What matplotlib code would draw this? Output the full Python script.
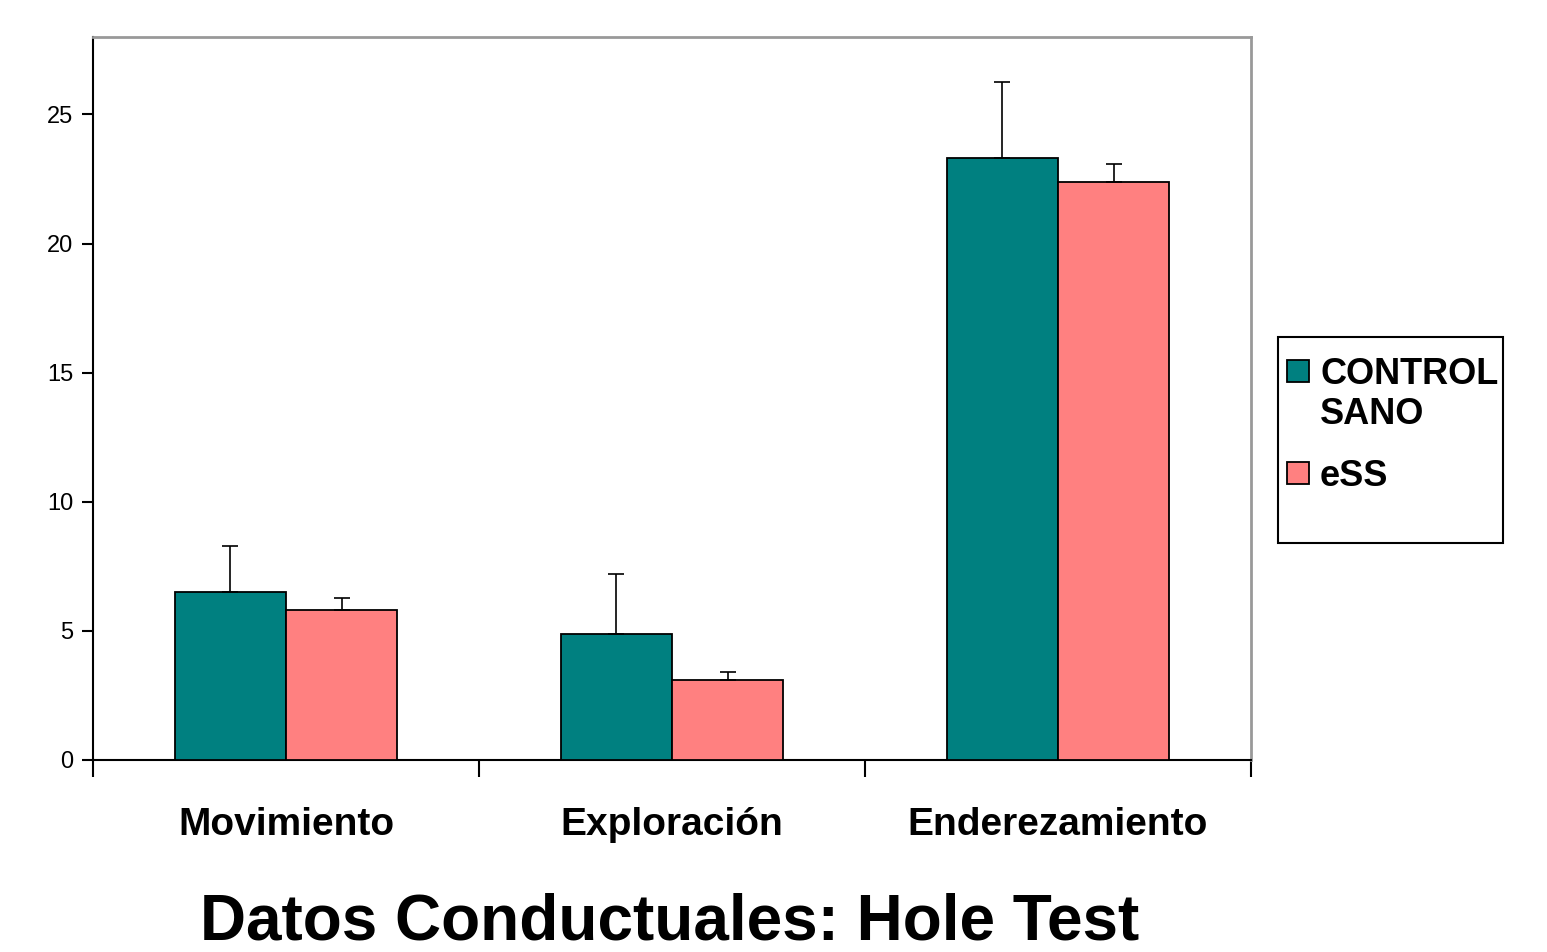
import matplotlib
matplotlib.use("Agg")
import matplotlib.pyplot as plt
from matplotlib.patches import Rectangle
import numpy as np

plt.rcParams['font.family'] = ['Liberation Sans', 'DejaVu Sans']

categories = ['Movimiento', 'Exploración', 'Enderezamiento']
control = [6.5, 4.87, 23.3]
control_err = [1.77, 2.32, 2.97]
ess = [5.8, 3.09, 22.37]
ess_err = [0.46, 0.31, 0.73]
series_names = ['CONTROL\nSANO', 'eSS']
series_colors = ['#008080', '#FF8080']
yticks = [0, 5, 10, 15, 20, 25]

W, H = 1547, 952
fig = plt.figure(figsize=(W / 100, H / 100), dpi=100)
ax = fig.add_axes([93 / W, 1 - 760 / H, (1251 - 93) / W, (760 - 37) / H])

x = np.arange(len(categories))
w = 0.288
ekw = dict(ecolor='black', elinewidth=1.2, capsize=6, capthick=1.2)
ax.bar(x - w / 2, control, w, color=series_colors[0], edgecolor='black', linewidth=1.3,
       yerr=[np.zeros(3), control_err], error_kw=ekw, zorder=3)
ax.bar(x + w / 2, ess, w, color=series_colors[1], edgecolor='black', linewidth=1.3,
       yerr=[np.zeros(3), ess_err], error_kw=ekw, zorder=3)

ax.set_xlim(-0.5, 2.5)
ax.set_ylim(0, 28)
ax.set_yticks(yticks)
ax.set_yticklabels([str(t) for t in yticks], fontsize=17)

# category boundaries as major ticks, labels on minor ticks
ax.set_xticks([-0.5, 0.5, 1.5, 2.5])
ax.set_xticklabels([])
ax.set_xticks(x, minor=True)
ax.set_xticklabels(categories, minor=True, fontsize=28, fontweight='bold')
ax.tick_params(axis='x', which='major', direction='out', length=12, width=1.5)
ax.tick_params(axis='x', which='minor', length=0, pad=34)
ax.tick_params(axis='y', direction='out', length=8, width=1.5, pad=6)

ax.spines['left'].set_color('black')
ax.spines['left'].set_linewidth(1.5)
ax.spines['bottom'].set_color('black')
ax.spines['bottom'].set_linewidth(1.5)
ax.spines['top'].set_color('#999999')
ax.spines['top'].set_linewidth(2)
ax.spines['right'].set_color('#999999')
ax.spines['right'].set_linewidth(2)

# legend box, drawn by hand so the swatch sits on the first text line
fig.patches.append(Rectangle((1278 / W, 1 - 543 / H), (1503 - 1278) / W, (543 - 337) / H,
                             transform=fig.transFigure, facecolor='white', edgecolor='black',
                             linewidth=1.5))
for name, color, ytop in zip(series_names, series_colors, [360, 462]):
    fig.patches.append(Rectangle((1287 / W, 1 - (ytop + 22) / H), 22 / W, 22 / H,
                                 transform=fig.transFigure, facecolor=color,
                                 edgecolor='black', linewidth=1.3))
    fig.text(1320 / W, 1 - (ytop - 3) / H, name, ha='left', va='top', fontsize=26,
             fontweight='bold', linespacing=1.2)

fig.text(670 / W, 1 - 922 / H, 'Datos Conductuales: Hole Test', ha='center', va='center',
         fontsize=46, fontweight='bold')

fig.savefig('out.png', dpi=100)
